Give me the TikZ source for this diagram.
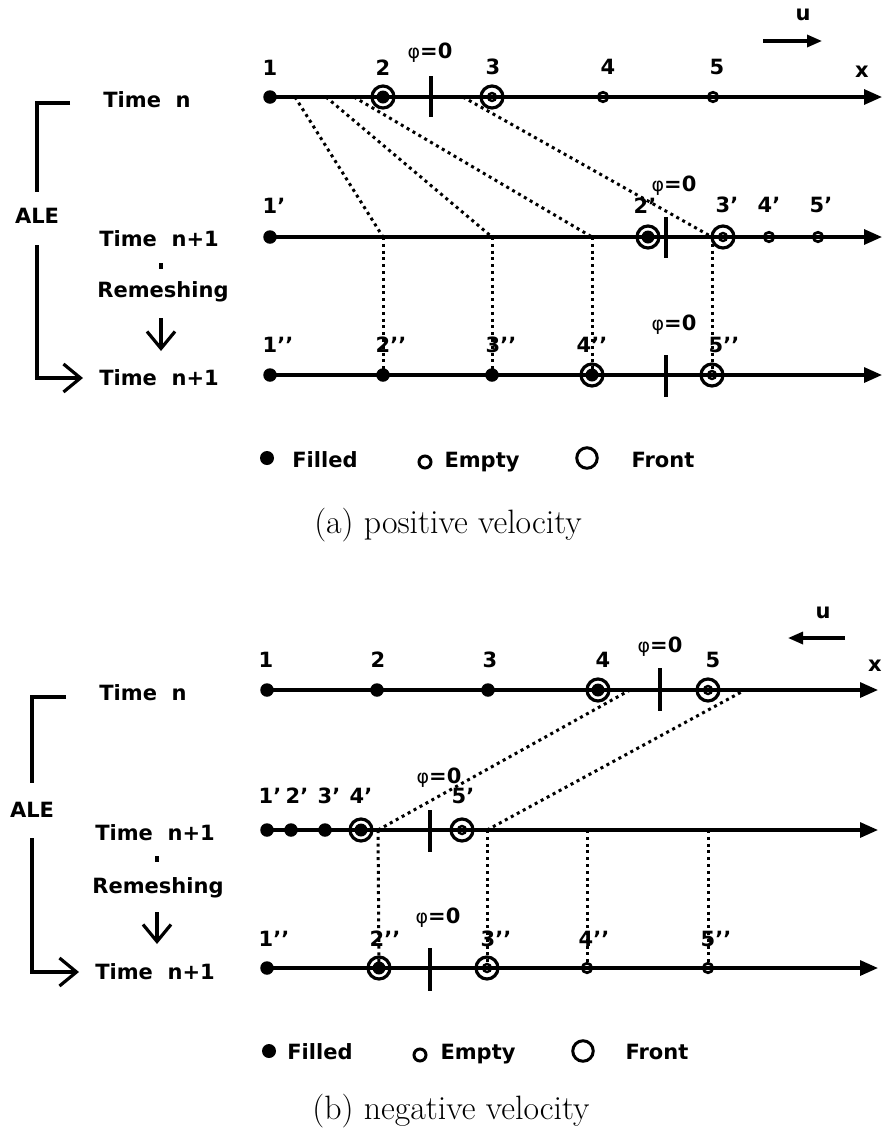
\documentclass[tikz,border=0pt]{standalone}
\usepackage{fontspec}
\usetikzlibrary{arrows.meta}
\newfontfamily\lbf{DejaVu Sans}
\newfontfamily\phf{DejaVu Sans}
\newcommand\labfont{\lbf\bfseries\fontsize{21}{24}\selectfont}
\newcommand\phz{{\phf\mdseries\fontsize{19}{22}\selectfont φ}=0}
\tikzset{
  axisline/.style={line width=3.2pt, -{Triangle[length=18pt,width=15pt]}},
  dotline/.style={line width=3pt, dash pattern=on 3pt off 3.8pt},
  filledpt/.style={circle, fill=black, inner sep=0pt, minimum size=13.5pt},
  emptypt/.style={circle, draw=black, line width=2.7pt, inner sep=0pt, minimum size=9.5pt},
  frontfill/.style={circle, draw=black, line width=3.2pt, inner sep=0pt, minimum size=22pt,
    path picture={\fill[black] (path picture bounding box.center) circle (6.5pt);}},
  frontempty/.style={circle, draw=black, line width=3.2pt, inner sep=0pt, minimum size=22pt,
    path picture={\draw[line width=2.4pt] (path picture bounding box.center) circle (4pt);}},
  phitick/.style={line width=3.2pt},
  lbl/.style={font=\labfont, inner sep=0pt, anchor=base},
  captext/.style={font=\fontsize{33.8}{40}\selectfont, inner sep=0pt, anchor=base},
  bracket/.style={line width=3.2pt},
  barb/.style={line width=3.2pt, -{Straight Barb[length=17pt,width=28pt,line width=3.2pt]}},
  uarrow/.style={line width=3.2pt, -{Triangle[length=15pt,width=12pt]}},
  legfill/.style={circle, fill=black, inner sep=0pt, minimum size=14pt},
  legempty/.style={circle, draw=black, line width=3pt, inner sep=0pt, minimum size=12pt},
  legfront/.style={circle, draw=black, line width=3pt, inner sep=0pt, minimum size=20.5pt},
}
\begin{document}
\begin{tikzpicture}[x=1pt,y=-1pt]
\useasboundingbox[fill=white] (0,0) rectangle (883,1133);

%%%%%%%%%%%%%%%%%%%% (a) positive velocity
% row 1 : time n
\node[filledpt]   (a1) at (270,97) {};
\node[frontfill]  (a2) at (383,97) {};
\node[frontempty] (a3) at (492,97) {};
\node[emptypt]    (a4) at (603,97) {};
\node[emptypt]    (a5) at (713,97) {};
\coordinate (aend) at (882,97);
\draw[axisline] (a1.center) -- (aend);
\coordinate (at1) at (431,76); \coordinate (at2) at (431,117);
\draw[phitick] (at1) -- (at2);
\node[lbl] (la1) at (270,75) {1};
\node[lbl] (la2) at (383,75) {2};
\node[lbl] (la3) at (493,74) {3};
\node[lbl] (la4) at (608,74) {4};
\node[lbl] (la5) at (717,74) {5};
\node[lbl] (lax) at (862,77) {x};
\node[lbl] (laphi) at (430,58) {\phz};
\node[lbl] (lau) at (803,20) {u};
\coordinate (au1) at (763,41); \coordinate (au2) at (822,41);
\draw[uarrow] (au1) -- (au2);
\coordinate (d1) at (295,97); \coordinate (d2) at (326,97);
\coordinate (d3) at (354,97); \coordinate (d4) at (463,97);

% row 2 : time n+1
\node[filledpt]   (b1) at (270,237) {};
\node[frontfill]  (b2) at (648,237) {};
\node[frontempty] (b3) at (723,237) {};
\node[emptypt]    (b4) at (769,237) {};
\node[emptypt]    (b5) at (818,237) {};
\coordinate (bend) at (882,237);
\draw[axisline] (b1.center) -- (bend);
\coordinate (bt1) at (666,217); \coordinate (bt2) at (666,258);
\draw[phitick] (bt1) -- (bt2);
\node[lbl] (lb1) at (270,213) {1\rlap{’}};
\node[lbl] (lb2) at (641,213) {2\rlap{’}};
\node[lbl] (lb3) at (723,212) {3\rlap{’}};
\node[lbl] (lb4) at (765,212) {4\rlap{’}};
\node[lbl] (lb5) at (817,212) {5\rlap{’}};
\node[lbl] (lbphi) at (674,191) {\phz};
\coordinate (c2) at (383,237); \coordinate (c3) at (492,237);
\coordinate (c4) at (592,237); \coordinate (c5) at (712,237);
\draw[dotline] (d1) -- (c2);
\draw[dotline] (d2) -- (c3);
\draw[dotline] (d3) -- (c4);
\draw[dotline] (d4) -- (c5);

% row 3 : time n+1 after remeshing
\node[filledpt]   (e1) at (270,375) {};
\node[filledpt]   (e2) at (383,375) {};
\node[filledpt]   (e3) at (492,375) {};
\node[frontfill]  (e4) at (592,375) {};
\node[frontempty] (e5) at (712,375) {};
\coordinate (eend) at (882,375);
\draw[axisline] (e1.center) -- (eend);
\coordinate (et1) at (666,355); \coordinate (et2) at (666,397);
\draw[phitick] (et1) -- (et2);
\node[lbl] (le1) at (270,352) {1\rlap{’’}};
\node[lbl] (le2) at (383,352) {2\rlap{’’}};
\node[lbl] (le3) at (493,352) {3\rlap{’’}};
\node[lbl] (le4) at (584,352) {4\rlap{’’}};
\node[lbl] (le5) at (716,352) {5\rlap{’’}};
\node[lbl] (lephi) at (674,330) {\phz};
\draw[dotline] (c2) -- (e2.center);
\draw[dotline] (c3) -- (e3.center);
\draw[dotline] (c4) -- (e4.center);
\draw[dotline] (c5) -- (e5.center);

% left side
\node[lbl] (tna) at (147,107) {Time\ \ n};
\node[lbl] (alea) at (37,223) {ALE};
\node[lbl] (tn1a) at (159,246) {Time\ \ n+1};
\node[lbl] (rema) at (163,297) {Remeshing};
\node[lbl] (tn2a) at (159,385) {Time\ \ n+1};
\coordinate (ta1) at (161,263); \coordinate (ta2) at (161,269);
\draw[bracket] (ta1) -- (ta2);
\coordinate (ra1) at (161,318); \coordinate (ra2) at (161,351);
\draw[barb] (ra1) -- (ra2);
\coordinate (ba1) at (70,103); \coordinate (ba2) at (37,103); \coordinate (ba3) at (37,192);
\draw[bracket] (ba1) -- (ba2) -- (ba3);
\coordinate (ba4) at (37,245); \coordinate (ba5) at (37,378); \coordinate (ba6) at (83,378);
\draw[barb] (ba4) -- (ba5) -- (ba6);

% legend
\node[legfill]  (lga1) at (267,458) {};
\node[lbl] (lgta1) at (325,467) {Filled};
\node[legempty] (lga2) at (425,462) {};
\node[lbl] (lgta2) at (482,467) {Empty};
\node[legfront] (lga3) at (587,458) {};
\node[lbl] (lgta3) at (663,467) {Front};
\node[captext] (capa) at (448,533) {(a) positive velocity};

%%%%%%%%%%%%%%%%%%%% (b) negative velocity
% row 1 : time n
\node[filledpt]   (f1) at (267,690) {};
\node[filledpt]   (f2) at (377,690) {};
\node[filledpt]   (f3) at (488,690) {};
\node[frontfill]  (f4) at (598,690) {};
\node[frontempty] (f5) at (708,690) {};
\coordinate (fend) at (878,690);
\draw[axisline] (f1.center) -- (fend);
\coordinate (ft1) at (660,668); \coordinate (ft2) at (660,711);
\draw[phitick] (ft1) -- (ft2);
\node[lbl] (lf1) at (266,667) {1};
\node[lbl] (lf2) at (378,667) {2};
\node[lbl] (lf3) at (490,667) {3};
\node[lbl] (lf4) at (603,667) {4};
\node[lbl] (lf5) at (713,667) {5};
\node[lbl] (lfx) at (875,671) {x};
\node[lbl] (lfphi) at (660,652) {\phz};
\node[lbl] (lfu) at (823,618) {u};
\coordinate (fu1) at (845,638); \coordinate (fu2) at (788,638);
\draw[uarrow] (fu1) -- (fu2);
\coordinate (m1) at (630,690); \coordinate (m2) at (745,690);

% row 2 : time n+1
\node[filledpt]   (g1) at (267,830) {};
\node[filledpt]   (g2) at (291,830) {};
\node[filledpt]   (g3) at (325,830) {};
\node[frontfill]  (g4) at (361,830) {};
\node[frontempty] (g5) at (462,830) {};
\coordinate (gend) at (878,830);
\draw[axisline] (g1.center) -- (gend);
\coordinate (gt1) at (430,810); \coordinate (gt2) at (430,852);
\draw[phitick] (gt1) -- (gt2);
\node[lbl] (lg1) at (266,803) {1\rlap{’}};
\node[lbl] (lg2) at (293,803) {2\rlap{’}};
\node[lbl] (lg3) at (325,803) {3\rlap{’}};
\node[lbl] (lg4) at (357,803) {4\rlap{’}};
\node[lbl] (lg5) at (459,803) {5\rlap{’}};
\node[lbl] (lgphi) at (439,783) {\phz};
\coordinate (h2) at (378,830); \coordinate (h3) at (487,830);
\coordinate (h4) at (587,830); \coordinate (h5) at (708,830);
\draw[dotline] (h2) -- (m1);
\draw[dotline] (h3) -- (m2);

% row 3 : time n+1 after remeshing
\node[filledpt]   (k1) at (267,968) {};
\node[frontfill]  (k2) at (379,968) {};
\node[frontempty] (k3) at (487,968) {};
\node[emptypt]    (k4) at (587,968) {};
\node[emptypt]    (k5) at (708,968) {};
\coordinate (kend) at (878,968);
\draw[axisline] (k1.center) -- (kend);
\coordinate (kt1) at (430,948); \coordinate (kt2) at (430,991);
\draw[phitick] (kt1) -- (kt2);
\node[lbl] (lk1) at (266,946) {1\rlap{’’}};
\node[lbl] (lk2) at (377,946) {2\rlap{’’}};
\node[lbl] (lk3) at (488,946) {3\rlap{’’}};
\node[lbl] (lk4) at (586,946) {4\rlap{’’}};
\node[lbl] (lk5) at (708,946) {5\rlap{’’}};
\node[lbl] (lkphi) at (438,923) {\phz};
\draw[dotline] (h2) -- (k2.center);
\draw[dotline] (h3) -- (k3.center);
\draw[dotline] (h4) -- (k4.center);
\draw[dotline] (h5) -- (k5.center);

% left side
\node[lbl] (tnb) at (143,700) {Time\ \ n};
\node[lbl] (aleb) at (32,817) {ALE};
\node[lbl] (tn1b) at (155,840) {Time\ \ n+1};
\node[lbl] (remb) at (158,893) {Remeshing};
\node[lbl] (tn2b) at (155,979) {Time\ \ n+1};
\coordinate (tb1) at (157,856); \coordinate (tb2) at (157,862);
\draw[bracket] (tb1) -- (tb2);
\coordinate (rb1) at (157,912); \coordinate (rb2) at (157,944);
\draw[barb] (rb1) -- (rb2);
\coordinate (bb1) at (66,697); \coordinate (bb2) at (32,697); \coordinate (bb3) at (32,783);
\draw[bracket] (bb1) -- (bb2) -- (bb3);
\coordinate (bb4) at (32,838); \coordinate (bb5) at (32,972); \coordinate (bb6) at (79,972);
\draw[barb] (bb4) -- (bb5) -- (bb6);

% legend
\node[legfill]  (lgb1) at (269,1051) {};
\node[lbl] (lgtb1) at (320,1059) {Filled};
\node[legempty] (lgb2) at (420,1055) {};
\node[lbl] (lgtb2) at (478,1059) {Empty};
\node[legfront] (lgb3) at (583,1051) {};
\node[lbl] (lgtb3) at (657,1059) {Front};
\node[captext] (capb) at (451,1119) {(b) negative velocity};
\end{tikzpicture}
\end{document}
